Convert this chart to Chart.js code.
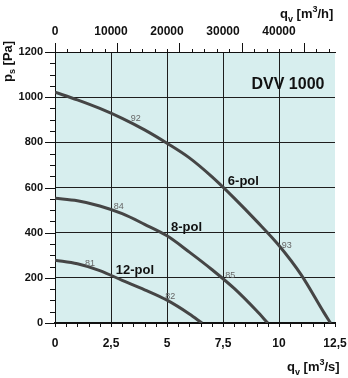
<!DOCTYPE html>
<html>
<head>
<meta charset="utf-8">
<script src="https://cdn.jsdelivr.net/npm/chart.js@4.4.0/dist/chart.umd.min.js"></script>
<style>
  html, body { margin: 0; padding: 0; background: #fff; }
  #wrap { width: 348px; height: 378px; }
</style>
</head>
<body>
<div id="wrap"><canvas id="myChart"></canvas></div>
<script>
// curve data (q in m3/s, p in Pa)
var q6 = [0, 1, 2, 3, 4, 5, 6, 7, 8, 9, 10, 11, 12, 12.3];
var p6 = [1022, 988, 950, 906, 855, 796, 731, 648, 553, 451, 343, 212, 47, 0];
var q8 = [0, 1, 2, 3, 4, 5, 6, 7, 8, 9, 9.5];
var p8 = [552, 541, 518, 484, 437, 386, 314, 237, 153, 54, 0];
var q12 = [0, 1, 2, 3, 4, 5, 6, 6.56];
var p12 = [278, 262, 232, 189, 147, 101, 40, 0];

// tick labels
var xTickLabels = ["0", "2,5", "5", "7,5", "10", "12,5"];
var topTickLabels = ["0", "10000", "20000", "30000", "40000"];
var yTickLabels = ["0", "200", "400", "600", "800", "1000", "1200"];

// curve names and efficiency marks
var curveNames = ["6-pol", "8-pol", "12-pol"];
var nameQ = [8.41, 5.87, 3.57];
var nameP = [628, 425, 234];
var effLabels = ["92", "84", "81", "93", "85", "82"];
var effQ = [3.6, 2.85, 1.56, 10.35, 7.82, 5.15];
var effP = [904, 515, 265, 345, 212, 118];
var modelName = "DVV 1000";

function pts(xs, ys) {
  return xs.map(function(x, i) { return { x: x, y: ys[i] }; });
}

function drawParts(c, x, y, parts) {
  parts.forEach(function(p) {
    c.font = p[1];
    c.fillText(p[0], x, y + p[2]);
    x += c.measureText(p[0]).width;
  });
}

var extras = {
  id: "extras",
  beforeDraw: function(chart) {
    var a = chart.chartArea, c = chart.ctx;
    c.save();
    c.fillStyle = "#d7eeee";
    c.fillRect(a.left, a.top, a.right - a.left, a.bottom - a.top);
    c.restore();
  },
  afterDraw: function(chart) {
    var c = chart.ctx, a = chart.chartArea;
    var sx = chart.scales.x, sy = chart.scales.y, st = chart.scales.x2;
    var v, px, len;
    c.save();
    c.strokeStyle = "#111";
    c.lineWidth = 1;
    c.beginPath();
    // left ticks
    for (v = 0; v <= 1200; v += 50) {
      px = Math.round(sy.getPixelForValue(v)) + 0.5;
      len = v % 200 === 0 ? 10 : 5;
      c.moveTo(a.left - len, px); c.lineTo(a.left, px);
    }
    // bottom ticks
    for (v = 0; v <= 12.5; v += 0.5) {
      px = Math.round(sx.getPixelForValue(v)) + 0.5;
      c.moveTo(px, a.bottom); c.lineTo(px, a.bottom + 4);
    }
    // top ticks
    for (v = 0; v <= 44000; v += 2000) {
      px = Math.round(st.getPixelForValue(v)) + 0.5;
      len = v % 10000 === 0 ? 9 : 3;
      c.moveTo(px, a.top - len); c.lineTo(px, a.top);
    }
    c.stroke();

    // curve names
    c.fillStyle = "#111";
    c.textAlign = "center";
    c.textBaseline = "middle";
    c.font = "bold 13px 'Liberation Sans'";
    curveNames.forEach(function(n, i) {
      c.fillText(n, sx.getPixelForValue(nameQ[i]), sy.getPixelForValue(nameP[i]));
    });
    c.font = "bold 16px 'Liberation Sans'";
    c.fillText(modelName, sx.getPixelForValue(10.4), sy.getPixelForValue(1055));

    // efficiencies
    c.fillStyle = "#666";
    c.font = "9px 'Liberation Sans'";
    effLabels.forEach(function(n, i) {
      c.fillText(n, sx.getPixelForValue(effQ[i]), sy.getPixelForValue(effP[i]));
    });

    // axis titles
    c.fillStyle = "#111";
    c.textAlign = "left";
    c.textBaseline = "alphabetic";
    var big = "bold 13px 'Liberation Sans'", small = "bold 9px 'Liberation Sans'";
    drawParts(c, 287, 371, [["q", big, 0], ["v", small, 4], [" [m", big, 0], ["3", small, -6], ["/s]", big, 0]]);
    drawParts(c, 280, 18, [["q", big, 0], ["v", small, 4], [" [m", big, 0], ["3", small, -6], ["/h]", big, 0]]);
    c.translate(12, 82);
    c.rotate(-Math.PI / 2);
    drawParts(c, 0, 0, [["p", big, 0], ["s", small, 3], [" [Pa]", big, 0]]);
    c.restore();
  }
};

Chart.defaults.font.family = "'Liberation Sans', Arial, sans-serif";
Chart.defaults.font.weight = "bold";
Chart.defaults.color = "#111";

var lineStyle = { borderColor: "#454545", borderWidth: 3, pointRadius: 0, showLine: true, cubicInterpolationMode: "monotone", fill: false };

var ctx = document.getElementById("myChart").getContext("2d");
new Chart(ctx, {
  type: "scatter",
  data: {
    datasets: [
      Object.assign({ label: curveNames[0], data: pts(q6, p6) }, lineStyle),
      Object.assign({ label: curveNames[1], data: pts(q8, p8) }, lineStyle),
      Object.assign({ label: curveNames[2], data: pts(q12, p12) }, lineStyle)
    ]
  },
  options: {
    responsive: true,
    maintainAspectRatio: false,
    animation: false,
    layout: { padding: 0 },
    plugins: { legend: { display: false }, tooltip: { enabled: false } },
    scales: {
      x: {
        type: "linear", position: "bottom", min: 0, max: 12.5,
        afterFit: function(s) { s.height = 55; s.paddingRight = 13; s.paddingLeft = 0; },
        border: { display: true, color: "#111", width: 2 },
        grid: {
          drawTicks: false, lineWidth: 1,
          color: function(c) { return c.tick && c.tick.value === 12.5 ? "rgba(0,0,0,0)" : "#1e1e1e"; }
        },
        ticks: {
          stepSize: 2.5, padding: 13, maxRotation: 0, autoSkip: false,
          font: { size: 12, weight: "bold" },
          callback: function(v, i) { return xTickLabels[i]; }
        }
      },
      x2: {
        type: "linear", position: "top", min: 0, max: 45000,
        afterFit: function(s) { s.height = 52; s.paddingRight = 13; s.paddingLeft = 0; },
        border: { display: true, color: "#111", width: 1 },
        grid: { drawOnChartArea: false, drawTicks: false },
        ticks: {
          stepSize: 10000, padding: 13, maxRotation: 0, autoSkip: false,
          font: { size: 12, weight: "bold" },
          callback: function(v, i) { return topTickLabels[i] === undefined ? null : topTickLabels[i]; }
        }
      },
      y: {
        type: "linear", position: "left", min: 0, max: 1200,
        afterFit: function(s) { s.width = 55; },
        border: { display: true, color: "#111", width: 1 },
        grid: { drawTicks: false, color: "#1e1e1e", lineWidth: 1 },
        ticks: {
          stepSize: 200, padding: 12, autoSkip: false,
          font: { size: 11, weight: "bold" },
          callback: function(v, i) { return yTickLabels[i]; }
        }
      }
    }
  },
  plugins: [extras]
});
</script>
</body>
</html>
